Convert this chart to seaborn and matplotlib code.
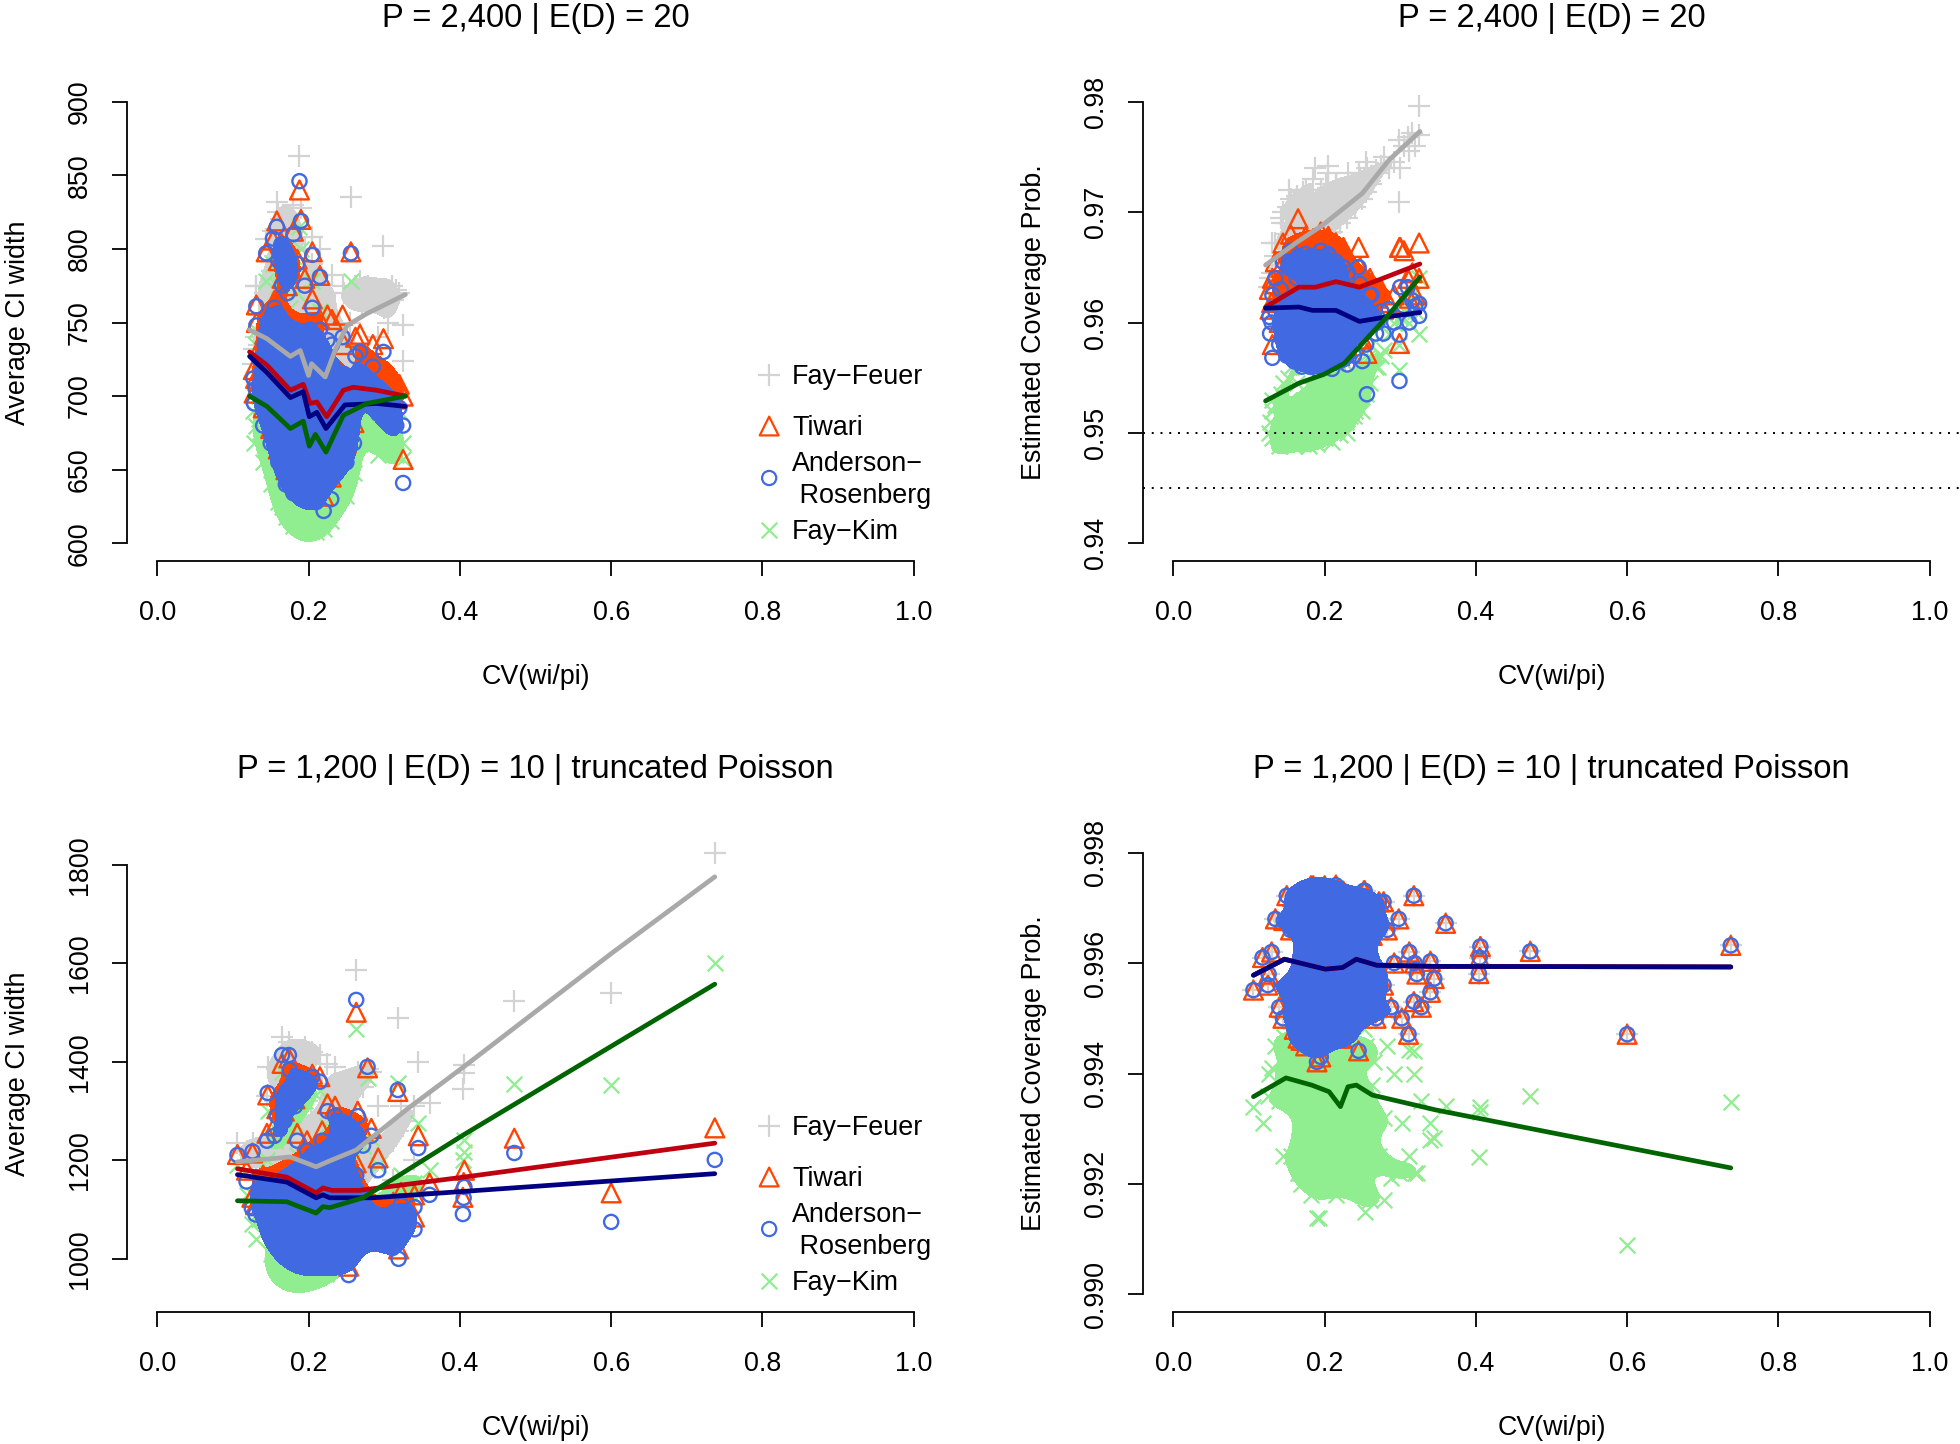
import matplotlib
matplotlib.use("Agg")
import matplotlib.pyplot as plt
from matplotlib.colors import ListedColormap
import seaborn as sns

# ----- shared x values (CV(wi/pi)) -----
x_top = [
    .188, .158, .256, .299, .325, .325, .299, .131, .131, .144,
    .153, .164, .160, .190, .205, .215, .255, .130, .128, .127,
    .135, .140, .145, .150, .155, .160, .165, .170, .175, .180,
    .185, .190, .195, .200, .205, .210, .215, .220, .225, .230,
    .135, .142, .148, .152, .158, .163, .168, .172, .178, .183,
    .187, .192, .197, .202, .208, .213, .218, .223, .228, .233,
    .150, .158, .167, .175, .183, .191, .199, .207, .215, .223,
    .231, .239, .247, .255, .262, .270, .278, .285, .292, .305,
    .310, .316, .320, .245, .250, .260, .268, .275, .300, .312,
    .165, .175, .185, .195, .205, .215, .225, .235, .242, .180,
    .160, .170, .180, .190, .200, .210, .220, .230, .240, .250,
    .165, .175, .185, .195, .205, .215, .225, .235, .170, .180,
    .190, .200, .210, .220, .230, .240, .185, .195, .205, .215,
    .162, .178, .188, .198, .208, .218, .228, .238, .172, .192,
]
x_bottom = [
    .737, .600, .472, .406, .405, .404, .360, .345, .340, .263,
    .318, .278, .165, .174, .175, .146, .179, .106, .126, .118,
    .125, .253, .190, .319, .311, .169, .130, .140, .150, .155,
    .160, .168, .175, .182, .190, .195, .200, .205, .210, .215,
    .220, .225, .230, .235, .240, .245, .250, .255, .260, .265,
    .135, .145, .152, .158, .165, .172, .178, .185, .192, .198,
    .203, .208, .213, .218, .223, .228, .233, .238, .243, .248,
    .252, .258, .263, .268, .272, .278, .283, .288, .292, .298,
    .302, .312, .318, .322, .328, .340, .188, .200, .212, .224,
    .175, .195, .205, .215, .225, .235, .245, .210, .220, .230,
    .170, .180, .190, .200, .210, .220, .230, .240, .250, .260,
    .175, .185, .195, .205, .215, .225, .235, .245, .255, .180,
    .190, .200, .210, .220, .230, .240, .185, .195, .205, .215,
    .165, .178, .188, .198, .208, .218, .228, .238, .248, .192,
]

# ----- P = 2,400, CI width -----
width_ff_top = [
    863, 832, 835, 802, 724, 748, 773, 775, 775, 807,
    812, 820, 825, 828, 808, 800, 750, 740, 732, 722,
    755, 712, 775, 700, 795, 690, 802, 680, 815, 672,
    815, 668, 800, 672, 790, 668, 775, 665, 770, 678,
    735, 770, 728, 785, 705, 780, 695, 798, 688, 758,
    682, 740, 680, 780, 690, 728, 698, 745, 688, 710,
    750, 735, 718, 742, 700, 770, 712, 738, 705, 730,
    782, 705, 770, 725, 775, 760, 775, 772, 740, 750,
    775, 772, 770, 775, 712, 735, 778, 770, 760, 765,
    682, 695, 728, 720, 765, 750, 720, 745, 720, 830,
    748, 718, 745, 705, 732, 698, 718, 692, 718, 702,
    732, 735, 722, 738, 702, 718, 728, 708, 748, 728,
    702, 738, 722, 712, 698, 718, 750, 688, 728, 708,
    718, 708, 752, 698, 732, 690, 708, 720, 760, 722,
]
width_ti_top = [
    840, 819, 798, 739, 657, 700, 708, 762, 750, 798,
    806, 804, 792, 820, 798, 782, 705, 712, 702, 718,
    733, 692, 748, 678, 765, 664, 780, 650, 788, 645,
    793, 642, 780, 640, 766, 638, 752, 632, 755, 645,
    710, 742, 700, 760, 682, 750, 670, 775, 660, 732,
    655, 708, 650, 750, 660, 698, 665, 712, 655, 675,
    728, 708, 695, 712, 675, 740, 685, 708, 675, 698,
    752, 672, 735, 695, 740, 725, 708, 735, 705, 698,
    700, 698, 708, 755, 668, 682, 742, 718, 712, 710,
    660, 670, 698, 690, 732, 718, 690, 708, 685, 812,
    730, 698, 724, 688, 712, 680, 700, 674, 698, 682,
    714, 716, 703, 720, 684, 698, 708, 687, 728, 708,
    684, 718, 704, 694, 680, 698, 733, 670, 708, 690,
    699, 688, 733, 680, 713, 670, 687, 700, 743, 704,
]
width_ar_top = [
    846, 815, 797, 730, 641, 680, 690, 761, 748, 797,
    807, 803, 792, 819, 796, 781, 690, 705, 695, 712,
    725, 680, 740, 668, 760, 655, 775, 640, 785, 634,
    790, 632, 775, 630, 760, 628, 745, 622, 738, 630,
    700, 735, 690, 755, 672, 745, 660, 770, 650, 725,
    645, 700, 640, 745, 650, 690, 655, 705, 645, 665,
    720, 700, 685, 705, 665, 735, 675, 700, 665, 690,
    735, 660, 715, 682, 727, 710, 695, 720, 688, 683,
    682, 680, 692, 740, 655, 668, 730, 705, 700, 698,
    650, 660, 690, 680, 725, 710, 680, 700, 672, 810,
    722, 690, 715, 680, 705, 672, 690, 665, 688, 672,
    705, 708, 695, 712, 675, 690, 700, 678, 720, 700,
    675, 710, 695, 685, 670, 690, 725, 660, 700, 680,
    690, 680, 725, 670, 705, 660, 678, 690, 735, 695,
]
width_fk_top = [
    815, 790, 778, 705, 657, 668, 680, 745, 735, 778,
    790, 785, 775, 800, 778, 758, 665, 680, 668, 690,
    700, 655, 712, 640, 735, 628, 750, 618, 760, 612,
    770, 612, 750, 610, 738, 608, 720, 610, 715, 615,
    675, 708, 662, 728, 648, 718, 635, 745, 628, 700,
    622, 675, 618, 718, 625, 668, 630, 680, 622, 640,
    695, 672, 660, 680, 640, 708, 650, 672, 640, 665,
    710, 635, 690, 655, 700, 682, 668, 695, 660, 665,
    668, 660, 690, 712, 632, 648, 700, 680, 672, 682,
    625, 635, 668, 655, 700, 685, 655, 675, 648, 795,
    702, 668, 692, 660, 685, 650, 670, 642, 666, 650,
    685, 688, 672, 690, 652, 668, 680, 655, 698, 680,
    652, 688, 672, 662, 648, 668, 702, 638, 678, 658,
    668, 660, 702, 648, 682, 640, 655, 668, 712, 672,
]

# ----- P = 2,400, coverage -----
cov_ff_top = [
    .9740, .9700, .9740, .9709, .9796, .9770, .9765, .9640, .9672, .9690,
    .9720, .9715, .9682, .9695, .9735, .9725, .9745, .9645, .9640, .9632,
    .9672, .9652, .9700, .9668, .9712, .9665, .9710, .9680, .9720, .9672,
    .9730, .9668, .9720, .9678, .9742, .9682, .9725, .9690, .9718, .9695,
    .9660, .9695, .9680, .9705, .9688, .9712, .9690, .9718, .9680, .9700,
    .9685, .9710, .9690, .9725, .9695, .9708, .9700, .9722, .9702, .9712,
    .9690, .9680, .9695, .9688, .9708, .9700, .9690, .9715, .9698, .9705,
    .9735, .9710, .9730, .9718, .9725, .9735, .9750, .9740, .9745, .9760,
    .9768, .9772, .9760, .9735, .9712, .9728, .9738, .9742, .9740, .9755,
    .9675, .9685, .9705, .9692, .9722, .9712, .9700, .9722, .9710, .9702,
    .9678, .9685, .9692, .9695, .9702, .9700, .9710, .9705, .9715, .9718,
    .9675, .9690, .9688, .9698, .9692, .9708, .9698, .9712, .9682, .9695,
    .9690, .9685, .9705, .9695, .9712, .9705, .9680, .9700, .9698, .9702,
    .9672, .9695, .9685, .9705, .9690, .9715, .9700, .9718, .9680, .9692,
]
cov_ti_top = [
    .9675, .9600, .9572, .9581, .9672, .9640, .9668, .9580, .9640, .9610,
    .9668, .9665, .9600, .9590, .9676, .9672, .9635, .9618, .9612, .9630,
    .9655, .9600, .9672, .9595, .9680, .9590, .9694, .9580, .9678, .9585,
    .9676, .9572, .9682, .9575, .9678, .9572, .9672, .9570, .9668, .9578,
    .9635, .9650, .9620, .9665, .9605, .9660, .9600, .9672, .9592, .9655,
    .9598, .9645, .9590, .9662, .9598, .9640, .9598, .9650, .9590, .9628,
    .9640, .9625, .9635, .9612, .9650, .9630, .9608, .9642, .9618, .9632,
    .9660, .9590, .9650, .9610, .9635, .9622, .9612, .9618, .9625, .9665,
    .9640, .9645, .9625, .9668, .9585, .9640, .9625, .9630, .9668, .9622,
    .9600, .9612, .9645, .9622, .9660, .9635, .9605, .9648, .9612, .9628,
    .9640, .9628, .9645, .9618, .9632, .9622, .9640, .9618, .9630, .9625,
    .9622, .9635, .9620, .9642, .9628, .9645, .9612, .9632, .9628, .9636,
    .9622, .9638, .9615, .9648, .9625, .9635, .9635, .9618, .9642, .9628,
    .9630, .9620, .9640, .9622, .9648, .9618, .9636, .9628, .9618, .9630,
]
cov_ar_top = [
    .9655, .9570, .9535, .9547, .9617, .9606, .9589, .9568, .9625, .9585,
    .9655, .9648, .9565, .9568, .9662, .9650, .9610, .9600, .9590, .9605,
    .9640, .9580, .9655, .9570, .9665, .9565, .9660, .9560, .9662, .9560,
    .9660, .9558, .9665, .9560, .9660, .9558, .9655, .9565, .9650, .9562,
    .9610, .9630, .9595, .9650, .9585, .9640, .9575, .9650, .9570, .9635,
    .9570, .9625, .9565, .9645, .9570, .9620, .9575, .9630, .9570, .9600,
    .9620, .9600, .9610, .9590, .9630, .9605, .9585, .9620, .9595, .9610,
    .9645, .9570, .9635, .9580, .9625, .9600, .9590, .9612, .9600, .9615,
    .9632, .9620, .9615, .9650, .9565, .9625, .9590, .9610, .9632, .9600,
    .9580, .9590, .9620, .9600, .9640, .9610, .9585, .9625, .9595, .9605,
    .9615, .9605, .9620, .9595, .9610, .9600, .9615, .9595, .9608, .9600,
    .9600, .9612, .9598, .9618, .9605, .9620, .9590, .9610, .9605, .9612,
    .9600, .9615, .9592, .9622, .9602, .9612, .9610, .9596, .9618, .9604,
    .9608, .9598, .9616, .9600, .9622, .9594, .9612, .9604, .9595, .9608,
]
cov_fk_top = [
    .9540, .9510, .9568, .9557, .9640, .9590, .9580, .9495, .9530, .9490,
    .9530, .9520, .9488, .9495, .9550, .9560, .9590, .9520, .9510, .9500,
    .9525, .9488, .9545, .9495, .9560, .9490, .9565, .9492, .9572, .9488,
    .9582, .9490, .9575, .9495, .9570, .9492, .9568, .9498, .9565, .9500,
    .9505, .9535, .9495, .9550, .9500, .9545, .9505, .9560, .9500, .9540,
    .9505, .9530, .9498, .9550, .9505, .9525, .9512, .9540, .9510, .9515,
    .9515, .9505, .9520, .9510, .9530, .9525, .9505, .9535, .9515, .9528,
    .9570, .9515, .9565, .9535, .9580, .9560, .9575, .9590, .9600, .9610,
    .9615, .9625, .9610, .9550, .9520, .9545, .9560, .9570, .9605, .9600,
    .9500, .9510, .9535, .9520, .9555, .9530, .9510, .9545, .9525, .9520,
    .9515, .9520, .9510, .9530, .9515, .9535, .9520, .9530, .9540, .9535,
    .9505, .9525, .9520, .9510, .9530, .9515, .9535, .9525, .9510, .9530,
    .9510, .9535, .9515, .9525, .9540, .9520, .9515, .9530, .9510, .9520,
    .9525, .9510, .9530, .9520, .9510, .9535, .9525, .9545, .9520, .9515,
]

# ----- P = 1,200, CI width -----
width_ff_bot = [
    1825, 1540, 1524, 1394, 1378, 1345, 1317, 1400, 1200, 1587,
    1490, 1385, 1450, 1440, 1420, 1390, 1395, 1235, 1235, 1220,
    1200, 1100, 1120, 1130, 1160, 1125, 1180, 1230, 1150, 1320,
    1140, 1370, 1120, 1385, 1130, 1430, 1125, 1420, 1130, 1415,
    1140, 1395, 1150, 1390, 1165, 1360, 1180, 1350, 1200, 1380,
    1215, 1330, 1150, 1385, 1130, 1400, 1120, 1340, 1120, 1320,
    1290, 1130, 1270, 1350, 1125, 1260, 1320, 1145, 1300, 1330,
    1230, 1170, 1290, 1180, 1350, 1215, 1380, 1185, 1310, 1220,
    1230, 1250, 1260, 1310, 1280, 1310, 1240, 1200, 1230, 1250,
    1255, 1240, 1215, 1200, 1235, 1215, 1260, 1190, 1185, 1225,
    1175, 1150, 1195, 1140, 1210, 1150, 1185, 1145, 1180, 1155,
    1190, 1135, 1170, 1215, 1150, 1195, 1135, 1190, 1165, 1215,
    1125, 1185, 1160, 1225, 1130, 1175, 1240, 1155, 1190, 1135,
    1205, 1165, 1140, 1200, 1175, 1125, 1215, 1155, 1170, 1185,
]
width_ti_bot = [
    1266, 1134, 1245, 1180, 1155, 1125, 1154, 1250, 1085, 1501,
    1340, 1388, 1397, 1408, 1380, 1333, 1333, 1212, 1215, 1180,
    1125, 985, 1005, 1020, 1045, 1045, 1110, 1170, 1080, 1270,
    1060, 1300, 1030, 1325, 1025, 1365, 1020, 1375, 1025, 1370,
    1020, 1315, 1020, 1310, 1030, 1285, 1025, 1265, 1050, 1300,
    1150, 1255, 1080, 1305, 1055, 1340, 1040, 1255, 1020, 1240,
    1200, 1030, 1180, 1260, 1020, 1170, 1230, 1030, 1200, 1240,
    1145, 1055, 1195, 1085, 1260, 1110, 1265, 1075, 1205, 1095,
    1055, 1115, 1070, 1135, 1095, 1130, 1125, 1110, 1130, 1140,
    1170, 1150, 1120, 1105, 1140, 1115, 1160, 1090, 1080, 1120,
    1132, 1110, 1152, 1095, 1168, 1106, 1142, 1102, 1138, 1112,
    1148, 1090, 1128, 1172, 1106, 1152, 1090, 1148, 1122, 1172,
    1080, 1142, 1116, 1182, 1086, 1132, 1196, 1110, 1148, 1090,
    1162, 1122, 1096, 1156, 1132, 1080, 1172, 1112, 1128, 1142,
]
width_ar_bot = [
    1201, 1075, 1215, 1146, 1124, 1091, 1130, 1225, 1060, 1526,
    1343, 1390, 1414, 1414, 1384, 1337, 1339, 1211, 1218, 1157,
    1103, 967, 988, 1000, 1022, 1024, 1090, 1150, 1060, 1250,
    1040, 1280, 1010, 1310, 1005, 1350, 1000, 1370, 1005, 1360,
    1000, 1300, 1000, 1290, 1010, 1270, 1005, 1250, 1030, 1290,
    1130, 1240, 1060, 1290, 1035, 1330, 1020, 1240, 1000, 1220,
    1180, 1010, 1160, 1240, 1000, 1150, 1210, 1010, 1180, 1220,
    1120, 1030, 1170, 1060, 1230, 1085, 1250, 1050, 1180, 1070,
    1030, 1095, 1050, 1110, 1070, 1105, 1100, 1090, 1110, 1120,
    1150, 1130, 1100, 1085, 1120, 1095, 1140, 1070, 1060, 1100,
    1110, 1090, 1130, 1075, 1145, 1085, 1120, 1080, 1115, 1090,
    1125, 1070, 1105, 1150, 1085, 1130, 1070, 1125, 1100, 1150,
    1060, 1120, 1095, 1160, 1065, 1110, 1175, 1090, 1125, 1070,
    1140, 1100, 1075, 1135, 1110, 1060, 1150, 1090, 1105, 1120,
]
width_fk_bot = [
    1601, 1353, 1355, 1242, 1217, 1200, 1180, 1275, 1125, 1467,
    1357, 1367, 1380, 1375, 1330, 1300, 1300, 1190, 1130, 1130,
    1070, 1040, 970, 1100, 1120, 985, 1040, 1110, 1010, 1240,
    985, 1245, 965, 1275, 962, 1320, 965, 1340, 970, 1340,
    975, 1270, 990, 1265, 1000, 1250, 1010, 1240, 1040, 1270,
    1080, 1200, 1015, 1250, 985, 1295, 975, 1210, 965, 1190,
    1150, 975, 1130, 1210, 970, 1120, 1185, 985, 1160, 1200,
    1110, 1030, 1170, 1065, 1230, 1100, 1245, 1075, 1190, 1100,
    1070, 1140, 1090, 1170, 1130, 1155, 1060, 1060, 1080, 1100,
    1110, 1095, 1070, 1060, 1090, 1075, 1120, 1040, 1040, 1075,
    1085, 1062, 1105, 1048, 1118, 1060, 1095, 1058, 1090, 1065,
    1098, 1042, 1080, 1125, 1060, 1105, 1045, 1100, 1075, 1122,
    1032, 1095, 1070, 1135, 1040, 1085, 1148, 1065, 1100, 1045,
    1112, 1075, 1048, 1110, 1085, 1035, 1125, 1065, 1080, 1095,
]

# ----- P = 1,200, coverage: three of the methods sit on the same points -----
cov_upper_bot = [
    .99632, .99471, .99621, .9963, .9961, .99581, .99672, .99572, .99603, .9965,
    .99722, .99711, .99464, .9972, .9966, .99677, .9973, .99551, .9958, .9961,
    .9956, .99731, .99421, .9960, .99471, .9946, .9962, .9952, .99722, .9966,
    .9948, .9969, .9945, .9974, .99451, .9943, .9974, .9972, .9948, .99741,
    .99464, .9973, .9948, .9970, .9950, .99441, .9968, .9951, .9966, .9955,
    .9968, .9950, .9955, .9972, .9951, .9968, .9950, .9974, .9948, .9962,
    .9949, .9965, .9948, .9968, .99464, .9960, .9950, .9965, .9954, .9958,
    .99731, .9952, .9968, .9950, .99711, .9956, .9966, .9952, .9960, .9968,
    .9950, .9962, .9953, .9958, .9952, .99547, .9958, .9952, .9963, .9956,
    .9956, .9966, .9955, .9965, .9952, .9961, .9963, .9958, .9960, .9956,
    .9960, .9956, .9962, .9955, .9964, .9958, .9961, .9955, .9960, .9957,
    .9958, .9963, .9956, .9960, .9966, .9954, .9959, .9962, .9957, .9955,
    .9964, .9960, .9957, .9952, .9962, .9958, .9966, .9953, .9961, .9967,
    .9955, .9961, .9956, .9963, .9953, .9960, .9957, .9964, .9959, .9951,
]
cov_fk_bot = [
    .99349, .9909, .99359, .9934, .9933, .99249, .99341, .99284, .9931, .9925,
    .9940, .9917, .9937, .9948, .9945, .99466, .9941, .9934, .9940, .9931,
    .9936, .9915, .99139, .9922, .99442, .9920, .9941, .9935, .9944, .9925,
    .9945, .9922, .9946, .9918, .9942, .9919, .9946, .9920, .9938, .9918,
    .9922, .9944, .9925, .9945, .9920, .9942, .9918, .9945, .9917, .9942,
    .9945, .9925, .9935, .9940, .9922, .9944, .9926, .9938, .99139, .9943,
    .9928, .9935, .9925, .9938, .9922, .9940, .9926, .9945, .9930, .9920,
    .9948, .9930, .9938, .9924, .9925, .9932, .9945, .9921, .9940, .9922,
    .9931, .9925, .9944, .9922, .9935, .9928, .9932, .9928, .9935, .9926,
    .9935, .9930, .9932, .9928, .9938, .9925, .9935, .9930, .9933, .9932,
    .9938, .9930, .9935, .9928, .9933, .9926, .9936, .9930, .9934, .9931,
    .9932, .9940, .9926, .9934, .9928, .9937, .9924, .9932, .9935, .9928,
    .9936, .9930, .9925, .9933, .9938, .9929, .9927, .9934, .9931, .9923,
    .9935, .9928, .9940, .9924, .9932, .9936, .9929, .9933, .9927, .9937,
]

# ----- trend lines, (x, y) per method -----
line_w_top = {
    "ff": ([.122, .145, .176, .189, .200, .204, .222, .235, .251, .277, .328],
           [745, 739, 727, 731, 714, 722, 713, 731, 748, 756, 769]),
    "ti": ([.122, .145, .176, .193, .202, .211, .224, .246, .259, .290, .328],
           [730, 721, 704, 708, 695, 696, 686, 704, 706, 704, 700]),
    "ar": ([.122, .145, .176, .193, .201, .211, .223, .248, .290, .328],
           [727, 716, 699, 703, 686, 689, 678, 694, 695, 693]),
    "fk": ([.122, .145, .176, .193, .201, .209, .223, .246, .277, .328],
           [700, 693, 678, 683, 666, 674, 662, 687, 695, 700]),
}
line_c_top = {
    "ff": ([.122, .162, .197, .250, .285, .326],
           [.9652, .9672, .9688, .9717, .9747, .9773]),
    "ti": ([.122, .166, .188, .215, .246, .277, .326],
           [.9614, .9632, .9632, .9637, .9632, .9640, .9653]),
    "ar": ([.122, .166, .184, .215, .246, .281, .326],
           [.9613, .9614, .9611, .9611, .9601, .9605, .9609]),
    "fk": ([.122, .166, .199, .226, .254, .281, .326],
           [.9529, .9545, .9553, .9563, .9584, .9604, .9641]),
}
line_w_bot = {
    "ff": ([.106, .176, .210, .228, .263, .331, .405, .600, .737],
           [1197, 1207, 1187, 1199, 1221, 1305, 1390, 1620, 1776]),
    "ti": ([.106, .171, .210, .219, .231, .267, .405, .737],
           [1183, 1166, 1134, 1144, 1139, 1139, 1166, 1235]),
    "ar": ([.106, .171, .210, .219, .228, .285, .737],
           [1171, 1156, 1124, 1130, 1124, 1124, 1173]),
    "fk": ([.106, .171, .210, .219, .228, .272, .405, .737],
           [1118, 1116, 1093, 1106, 1104, 1124, 1252, 1558]),
}
line_c_bot = {
    "ff": ([.106, .147, .201, .224, .242, .269, .347, .737],
           [.99578, .99607, .99589, .99592, .99607, .99596, .99594, .99593]),
    "ti": ([.106, .147, .201, .224, .242, .269, .347, .737],
           [.99578, .99607, .99589, .99592, .99607, .99596, .99594, .99593]),
    "ar": ([.106, .147, .201, .224, .242, .269, .347, .737],
           [.99578, .99607, .99589, .99592, .99607, .99596, .99594, .99593]),
    "fk": ([.106, .149, .183, .206, .221, .231, .242, .263, .347, .737],
           [.99358, .99392, .99379, .99367, .9934, .99376, .99379, .99361, .99334, .99229]),
}

labels = {"ff": "Fay\u2212Feuer", "ti": "Tiwari",
          "ar": "Anderson\u2212\n Rosenberg", "fk": "Fay\u2212Kim"}
point_col = {"ff": "#D3D3D3", "ti": "#FF4500", "ar": "#4169E1", "fk": "#90EE90"}
line_col = {"ff": "#A9A9A9", "ti": "#BE0010", "ar": "#000080", "fk": "#006400"}
point_mark = {"ff": "+", "ti": "^", "ar": "o", "fk": "x"}
point_size = {"ff": 58, "ti": 46, "ar": 26, "fk": 32}

sns.set_theme(style="white")
plt.rcParams["font.family"] = "Liberation Sans"
plt.rcParams["text.color"] = "black"
plt.rcParams["axes.labelcolor"] = "black"
plt.rcParams["axes.titlecolor"] = "black"
plt.rcParams["xtick.color"] = "black"
plt.rcParams["ytick.color"] = "black"
FS = 9.7

fig = plt.figure(figsize=(9.8, 7.22), dpi=200)


def add_points(ax, x, y, key):
    if point_mark[key] in ("+", "x"):
        sns.scatterplot(x=x, y=y, marker=point_mark[key], s=point_size[key],
                        color=point_col[key], linewidth=0.8, ax=ax, clip_on=False)
    else:
        sns.scatterplot(x=x, y=y, marker=point_mark[key], s=point_size[key],
                        color="none", edgecolor=point_col[key], linewidth=0.85, ax=ax, clip_on=False)


def panel(pos, x, ys, lines, ylim, yticks, ytick_labels, title, ylabel, legend=False,
          core=0.3, bw=0.8):
    ax = fig.add_axes(pos)

    # dense middle of each cloud is solid in the original
    for key in ["ff", "fk", "ti", "ar"]:
        sns.kdeplot(x=x, y=ys[key], fill=True, levels=[core, 1],
                    cmap=ListedColormap([point_col[key]]), bw_adjust=bw, ax=ax)
        add_points(ax, x, ys[key], key)

    for key in ["ff", "ti", "ar", "fk"]:
        sns.lineplot(x=lines[key][0], y=lines[key][1], color=line_col[key], linewidth=1.7,
                     estimator=None, sort=False, ax=ax, solid_capstyle="round")

    ax.set_xlim(-0.04, 1.04)
    ax.set_ylim(*ylim)
    ax.set_xticks([0, .2, .4, .6, .8, 1.0])
    ax.set_xticklabels(["0.0", "0.2", "0.4", "0.6", "0.8", "1.0"], fontsize=FS)
    ax.set_yticks(yticks)
    ax.set_yticklabels(ytick_labels, fontsize=FS, rotation=90, va="center")
    ax.tick_params(axis="x", length=5.4, width=0.65, pad=8.5, color="black", bottom=True)
    ax.tick_params(axis="y", length=5.4, width=0.65, pad=7, color="black", left=True)

    for side in ["top", "right"]:
        ax.spines[side].set_visible(False)
    ax.spines["left"].set_bounds(yticks[0], yticks[-1])
    ax.spines["bottom"].set_bounds(0, 1)
    for side in ["left", "bottom"]:
        ax.spines[side].set_linewidth(0.65)
        ax.spines[side].set_color("black")

    ax.set_title(title, fontsize=11.8, pad=0, y=1.137, va="center")
    ax.set_xlabel("CV(wi/pi)", fontsize=FS, va="center")
    ax.xaxis.set_label_coords(0.5, -0.244)
    ax.set_ylabel(ylabel, fontsize=FS, va="center")
    ax.yaxis.set_label_coords(-0.133, 0.5)
    ax.grid(False)

    if legend:
        key_y = {"ff": 0.390, "ti": 0.283, "ar": 0.174, "fk": 0.065}
        for key, yy in key_y.items():
            ax.scatter([0.786], [yy], marker=point_mark[key], s=point_size[key],
                       facecolors="none" if key in ("ti", "ar") else point_col[key],
                       edgecolors=point_col[key], linewidths=0.8,
                       transform=ax.transAxes, clip_on=False)
            ax.text(0.814, yy - 0.004, labels[key], fontsize=FS, va="center", ha="left",
                    linespacing=1.27, transform=ax.transAxes)
    return ax


W, H = 817 / 1960, 477 / 1444
left_a, left_b = 127 / 1960, 1143 / 1960
top_y, bot_y = 1 - 561 / 1444, 1 - 1312 / 1444

panel([left_a, top_y, W, H], x_top,
      {"ff": width_ff_top, "ti": width_ti_top, "ar": width_ar_top, "fk": width_fk_top},
      line_w_top, (588, 912), [600, 650, 700, 750, 800, 850, 900],
      ["600", "650", "700", "750", "800", "850", "900"],
      "P = 2,400 | E(D) = 20", "Average CI width", legend=True)

ax2 = panel([left_b, top_y, W, H], x_top,
            {"ff": cov_ff_top, "ti": cov_ti_top, "ar": cov_ar_top, "fk": cov_fk_top},
            line_c_top, (.9384, .9816), [.94, .95, .96, .97, .98],
            ["0.94", "0.95", "0.96", "0.97", "0.98"],
            "P = 2,400 | E(D) = 20", "Estimated Coverage Prob.")
ax2.axhline(.95, color="black", linestyle=(0, (1, 3.5)), linewidth=0.7)
ax2.axhline(.945, color="black", linestyle=(0, (1, 3.5)), linewidth=0.7)

panel([left_a, bot_y, W, H], x_bottom,
      {"ff": width_ff_bot, "ti": width_ti_bot, "ar": width_ar_bot, "fk": width_fk_bot},
      line_w_bot, (892, 1861), [1000, 1200, 1400, 1600, 1800],
      ["1000", "1200", "1400", "1600", "1800"],
      "P = 1,200 | E(D) = 10 | truncated Poisson", "Average CI width", legend=True, bw=0.55)

panel([left_b, bot_y, W, H], x_bottom,
      {"ff": cov_upper_bot, "ti": cov_upper_bot, "ar": cov_upper_bot, "fk": cov_fk_bot},
      line_c_bot, (.98968, .99832), [.990, .992, .994, .996, .998],
      ["0.990", "0.992", "0.994", "0.996", "0.998"],
      "P = 1,200 | E(D) = 10 | truncated Poisson", "Estimated Coverage Prob.", bw=0.55)

fig.savefig("out.png", dpi=200)
